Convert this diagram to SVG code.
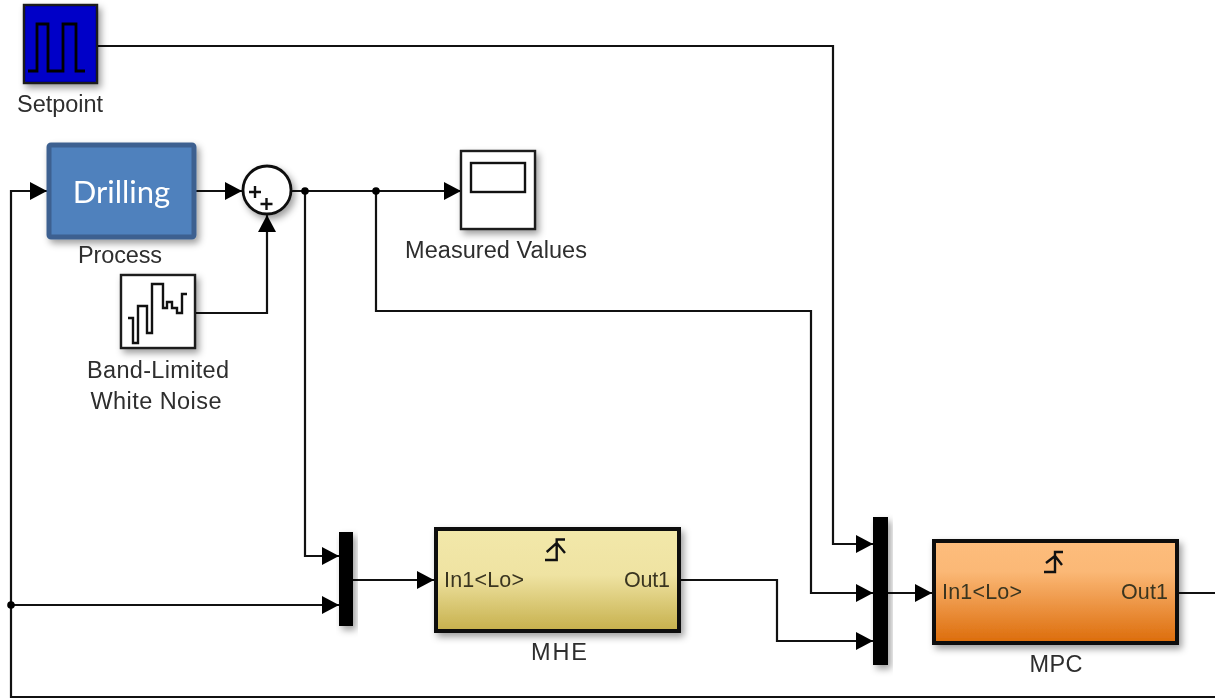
<svg xmlns="http://www.w3.org/2000/svg" width="1215" height="698" viewBox="0 0 1215 698">
<style>
.w{fill:none;stroke:#111;stroke-width:2.2}
.t{font-family:"Liberation Sans",Arial,sans-serif;font-size:23.5px;fill:#2e2e2e;text-anchor:middle}
.p{font-family:"Liberation Sans",Arial,sans-serif;font-size:21.5px;fill:#3a3520}
.b{stroke:#1a1a1a;stroke-width:2.4}
.g{fill:none;stroke:#111;stroke-width:2.4}
</style>
<defs>
<marker id="a" markerUnits="userSpaceOnUse" markerWidth="17" markerHeight="18" refX="17" refY="9" orient="auto"><path d="M0,0L17,9L0,18z" fill="#000"/></marker>
<filter id="s" x="-20%" y="-20%" width="150%" height="150%"><feDropShadow dx="3" dy="4" stdDeviation="3.500" flood-color="#000" flood-opacity=".38"/></filter>
<filter id="m" filterUnits="userSpaceOnUse" x="0" y="0" width="1215" height="698" color-interpolation-filters="sRGB"><feGaussianBlur stdDeviation=".7"/></filter>
<linearGradient id="g1" x1="0" y1="0" x2="0" y2="1"><stop offset="0" stop-color="#f2e8aa"/><stop offset=".45" stop-color="#efe3a2"/><stop offset="1" stop-color="#c6b04c"/></linearGradient>
<linearGradient id="g2" x1="0" y1="0" x2="0" y2="1"><stop offset="0" stop-color="#fdbd7c"/><stop offset=".3" stop-color="#fbb876"/><stop offset="1" stop-color="#dc6c0a"/></linearGradient>
</defs>
<rect width="1215" height="698" fill="#fff"/>
<g filter="url(#m)">
<g id="connectors">
<path class="w" marker-end="url(#a)" d="M97,46H833V544H873"/>
<path class="w" d="M1215,593H1179"/>
<path class="w" marker-end="url(#a)" d="M1215,697H11V191H47"/>
<path class="w" marker-end="url(#a)" d="M11,605H339"/>
<path class="w" marker-end="url(#a)" d="M196,191H242"/>
<path class="w" marker-end="url(#a)" d="M291,191H461"/>
<path class="w" marker-end="url(#a)" d="M305,191V556H339"/>
<path class="w" marker-end="url(#a)" d="M376,191V311H811V593H873"/>
<path class="w" marker-end="url(#a)" d="M195,313H267V215"/>
<path class="w" marker-end="url(#a)" d="M353,580H434"/>
<path class="w" marker-end="url(#a)" d="M680,580H777V641H873"/>
<path class="w" marker-end="url(#a)" d="M888,593H932"/>
<circle cx="305" cy="191" r="3.800" fill="#000"/>
<circle cx="376" cy="191" r="3.800" fill="#000"/>
<circle cx="11" cy="605" r="3.800" fill="#000"/>
</g>
<g id="setpoint">
<rect class="b" x="24" y="5" width="73" height="78" fill="#0000c8" filter="url(#s)"/>
<path d="M28,71H37V24H48V71H63V24H76V71H85" fill="none" stroke="#000" stroke-width="2.800"/>
<text class="t" x="60" y="112" textLength="86">Setpoint</text>
</g>
<g id="process">
<rect x="49" y="145" width="145" height="92" rx="2" fill="#4f81bd" stroke="#3c6190" stroke-width="5" filter="url(#s)"/>
<text x="121.500" y="203" font-family="Lato,'Liberation Sans',sans-serif" font-size="31" fill="#fff" text-anchor="middle">Drilling</text>
<text class="t" x="120" y="263" textLength="84">Process</text>
</g>
<g id="sum">
<circle cx="267" cy="190" r="24" fill="#fff" stroke="#111" stroke-width="2.800" filter="url(#s)"/>
<path class="g" d="M249,192H261M255,186V198M260.500,204H272.500M266.500,198V210"/>
</g>
<g id="scope">
<rect class="b" x="461" y="151" width="74" height="78" fill="#fff" filter="url(#s)"/>
<rect x="471" y="163" width="54" height="29" fill="#fff" stroke="#111" stroke-width="2.400"/>
<text class="t" x="496" y="258" textLength="182">Measured Values</text>
</g>
<g id="noise">
<rect class="b" x="121" y="275" width="74" height="73" fill="#fff" filter="url(#s)"/>
<path class="g" d="M128,318H133V343H138V306H147V333H152V284H163V308H167V302H172V308H177V313H182V294H187"/>
<text class="t" x="158" y="378" textLength="142">Band-Limited</text>
<text class="t" x="156" y="409" textLength="131">White Noise</text>
</g>
<g id="mux1"><rect x="339" y="532" width="14" height="94" fill="#000" filter="url(#s)"/></g>
<g id="mhe">
<rect x="436" y="529" width="243" height="102" fill="url(#g1)" stroke="#111" stroke-width="4" filter="url(#s)"/>
<path class="g" d="M545,560H556.700V539.500H565M546.700,552L556.700,543L565,553"/>
<text class="p" x="444" y="587" textLength="80">In1&lt;Lo&gt;</text>
<text class="p" x="624" y="587" textLength="46">Out1</text>
<text class="t" x="559" y="660" textLength="56">MHE</text>
</g>
<g id="mux2"><rect x="873" y="517" width="15" height="148" fill="#000" filter="url(#s)"/></g>
<g id="mpc">
<rect x="934" y="541" width="243" height="102" fill="url(#g2)" stroke="#111" stroke-width="4" filter="url(#s)"/>
<path class="g" d="M1044,572H1055V552H1063M1046,563L1055,556L1062,565"/>
<text class="p" x="942" y="599" textLength="80">In1&lt;Lo&gt;</text>
<text class="p" x="1121" y="599" textLength="47">Out1</text>
<text class="t" x="1056" y="672" textLength="53">MPC</text>
</g>
</g>
</svg>
